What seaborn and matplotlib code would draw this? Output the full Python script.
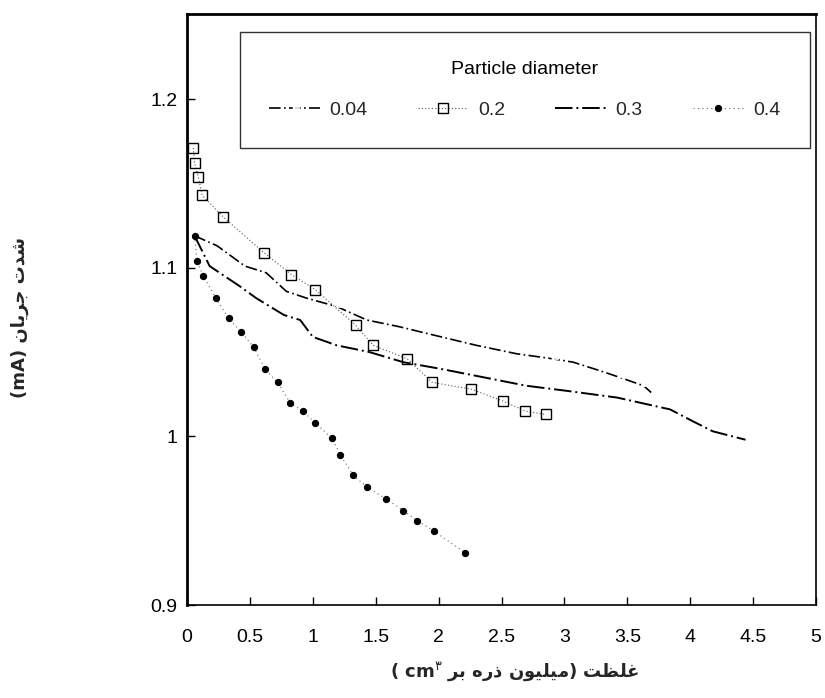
import pandas as pd
import matplotlib.pyplot as plt
import seaborn as sns

# Data
x_004 = [0.06, 0.24, 0.46, 0.63, 0.79, 0.95, 1.19, 1.43, 1.69, 1.91, 2.30, 2.62, 2.91, 3.07, 3.28, 3.44, 3.63, 3.69]
y_004 = [1.119, 1.113, 1.101, 1.097, 1.086, 1.082, 1.077, 1.069, 1.065, 1.061, 1.054, 1.049, 1.046, 1.044, 1.039, 1.035, 1.030, 1.026]

x_02 = [0.05, 0.06, 0.09, 0.12, 0.29, 0.61, 0.83, 1.02, 1.34, 1.48, 1.75, 1.95, 2.26, 2.51, 2.69, 2.85]
y_02 = [1.171, 1.162, 1.154, 1.143, 1.130, 1.109, 1.096, 1.087, 1.066, 1.054, 1.046, 1.032, 1.028, 1.021, 1.015, 1.013]

x_03 = [0.06, 0.18, 0.42, 0.55, 0.77, 0.90, 1.00, 1.19, 1.45, 1.72, 2.02, 2.36, 2.70, 3.02, 3.42, 3.84, 4.02, 4.18, 4.44]
y_03 = [1.119, 1.101, 1.089, 1.082, 1.072, 1.069, 1.059, 1.054, 1.050, 1.044, 1.040, 1.035, 1.030, 1.027, 1.023, 1.016, 1.009, 1.003, 0.998]

x_04 = [0.06, 0.08, 0.13, 0.23, 0.33, 0.43, 0.53, 0.62, 0.72, 0.82, 0.92, 1.02, 1.15, 1.22, 1.32, 1.43, 1.58, 1.72, 1.83, 1.96, 2.21]
y_04 = [1.119, 1.104, 1.095, 1.082, 1.070, 1.062, 1.053, 1.040, 1.032, 1.020, 1.015, 1.008, 0.999, 0.989, 0.977, 0.970, 0.963, 0.956, 0.950, 0.944, 0.931]

x_ticks = [0, 0.5, 1, 1.5, 2, 2.5, 3, 3.5, 4, 4.5, 5]
x_tick_labels = ['0', '0.5', '1', '1.5', '2', '2.5', '3', '3.5', '4', '4.5', '5']
y_ticks = [0.9, 1.0, 1.1, 1.2]
y_tick_labels = ['0.9', '1', '1.1', '1.2']

# Arabic-script letters -> (isolated, final, initial, medial) presentation forms
FORMS = {
    'ا': ('\uFE8D', '\uFE8E', None, None),
    'ب': ('\uFE8F', '\uFE90', '\uFE91', '\uFE92'),
    'ت': ('\uFE95', '\uFE96', '\uFE97', '\uFE98'),
    'ج': ('\uFE9D', '\uFE9E', '\uFE9F', '\uFEA0'),
    'د': ('\uFEA9', '\uFEAA', None, None),
    'ذ': ('\uFEAB', '\uFEAC', None, None),
    'ر': ('\uFEAD', '\uFEAE', None, None),
    'ش': ('\uFEB5', '\uFEB6', '\uFEB7', '\uFEB8'),
    'ظ': ('\uFEC5', '\uFEC6', '\uFEC7', '\uFEC8'),
    'غ': ('\uFECD', '\uFECE', '\uFECF', '\uFED0'),
    'ل': ('\uFEDD', '\uFEDE', '\uFEDF', '\uFEE0'),
    'م': ('\uFEE1', '\uFEE2', '\uFEE3', '\uFEE4'),
    'ن': ('\uFEE5', '\uFEE6', '\uFEE7', '\uFEE8'),
    'ه': ('\uFEE9', '\uFEEA', '\uFEEB', '\uFEEC'),
    'و': ('\uFEED', '\uFEEE', None, None),
    'ی': ('\uFBFC', '\uFBFD', '\uFEF3', '\uFEF4'),
}


def shape(word):
    # join letters and return them in visual (left-to-right) order
    out = []
    for i, ch in enumerate(word):
        f = FORMS.get(ch)
        if f is None:
            out.append(ch)
            continue
        prev = word[i - 1] if i > 0 else ''
        nxt = word[i + 1] if i + 1 < len(word) else ''
        jp = prev in FORMS and FORMS[prev][2] is not None
        jn = f[2] is not None and nxt in FORMS
        if jp and jn:
            out.append(f[3])
        elif jp:
            out.append(f[1])
        elif jn:
            out.append(f[2])
        else:
            out.append(f[0])
    return ''.join(reversed(out))


xlabel = ('( $\\mathbf{cm}^{۳}$ ' + shape('بر') + ' ' + shape('ذره') + ' '
          + shape('میلیون') + ') ' + shape('غلظت'))
ylabel = '(mA) ' + shape('جریان') + ' ' + shape('شدت')

sns.set_style('ticks')
plt.rcParams['font.family'] = ['Liberation Sans', 'DejaVu Sans']
plt.rcParams['mathtext.fontset'] = 'dejavusans'

fig = plt.figure(figsize=(8.25, 6.98), dpi=100)
ax = fig.add_axes([187 / 825, 1 - 605 / 698, 629 / 825, 591 / 698])

sns.lineplot(x=x_004, y=y_004, ax=ax, sort=False, estimator=None, color='black',
             linestyle=(0, (7, 2, 1, 2)), linewidth=1.2, marker='4', markersize=9,
             markeredgewidth=1.2, markevery=[6, 12, 15, 16], label='0.04')
sns.lineplot(x=x_02, y=y_02, ax=ax, sort=False, estimator=None, color='#555555',
             linestyle=(0, (1, 2)), linewidth=0.8, marker='s', markersize=7,
             markerfacecolor='none', markeredgecolor='black', markeredgewidth=1.0,
             label='0.2')
sns.lineplot(x=x_03, y=y_03, ax=ax, sort=False, estimator=None, color='black',
             linestyle=(0, (9, 2, 1, 2)), linewidth=1.4, label='0.3')
sns.lineplot(x=x_04, y=y_04, ax=ax, sort=False, estimator=None, color='#666666',
             linestyle=(0, (1, 3)), linewidth=0.8, marker='o', markersize=4.5,
             markerfacecolor='black', markeredgecolor='black', label='0.4')

ax.set_xlim(0, 5)
ax.set_ylim(0.9, 1.2505)
ax.set_xticks(x_ticks)
ax.set_xticklabels(x_tick_labels)
ax.set_yticks(y_ticks)
ax.set_yticklabels(y_tick_labels)
ax.tick_params(axis='both', direction='in', length=6, width=1, labelsize=14, colors='black')
ax.tick_params(axis='x', pad=17)
ax.tick_params(axis='y', pad=7)
for side in ['left', 'top']:
    ax.spines[side].set_linewidth(2.0)
for side in ['right', 'bottom']:
    ax.spines[side].set_linewidth(1.2)
for s in ax.spines.values():
    s.set_color('black')
ax.set_xlabel('')
ax.set_ylabel('')

leg = ax.legend(title='Particle diameter', ncol=4, loc='upper left',
                bbox_to_anchor=(0.084, 0.60, 0.906, 0.37), mode='expand',
                borderaxespad=0, fontsize=14, title_fontsize=14, frameon=True,
                fancybox=False, handlelength=2.6, handletextpad=0.5, borderpad=1.5,
                labelspacing=1.2, columnspacing=1.5, numpoints=1)
leg.get_frame().set_edgecolor('black')
leg.get_frame().set_linewidth(1.0)
leg.get_title().set_color('black')

fig.text(515 / 825, 1 - 672 / 698, xlabel, ha='center', va='center',
         fontsize=13, fontweight='bold', family=['DejaVu Sans'])
fig.text(20 / 825, 1 - 318 / 698, ylabel, ha='center', va='center', rotation=90,
         fontsize=13, fontweight='bold', family=['DejaVu Sans'])

plt.savefig('out.png', dpi=100)
